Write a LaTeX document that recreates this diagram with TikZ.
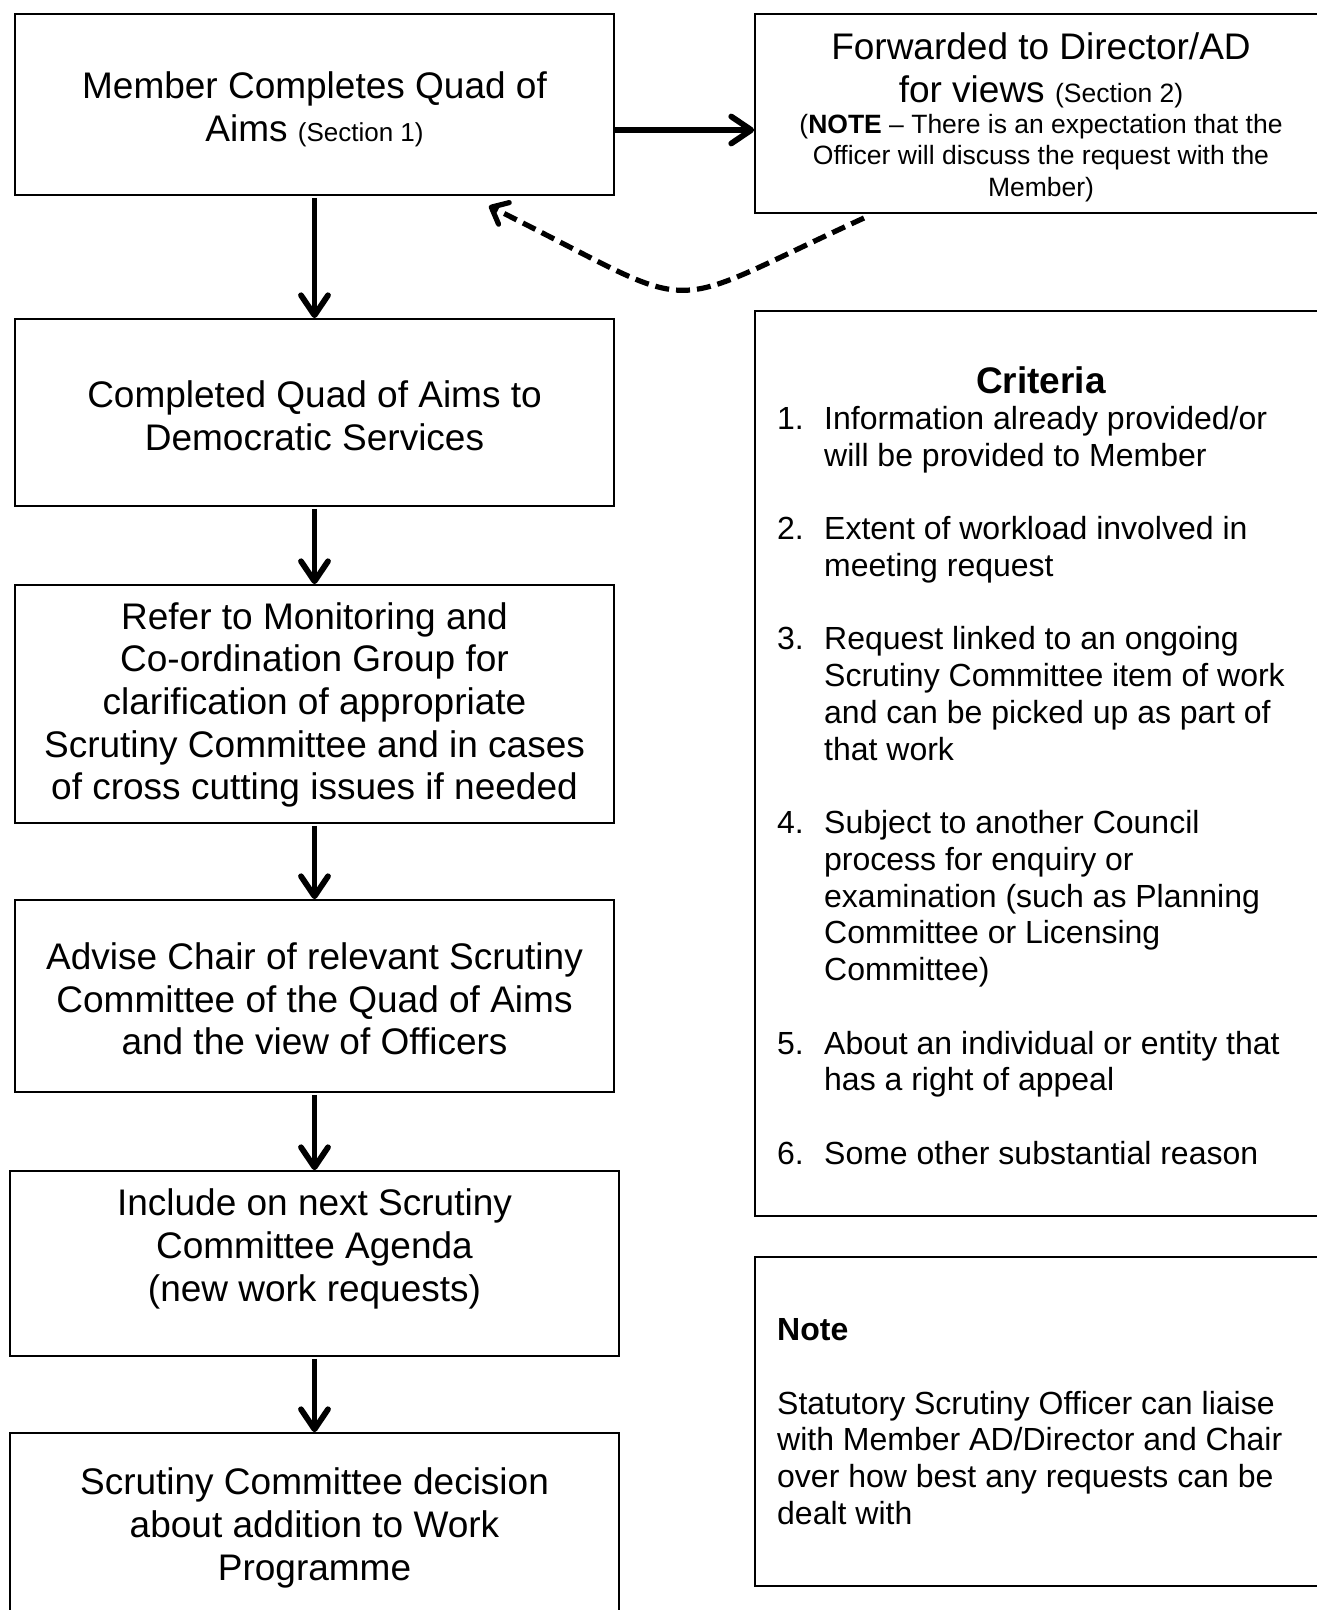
\documentclass[tikz,border=0pt]{standalone}
\usepackage{fontspec}
\setmainfont{Liberation Sans}
\usetikzlibrary{arrows.meta}
\newcommand{\critnum}[2]{\makebox[47pt][l]{#1}#2}
\newcommand{\critcont}[1]{\hspace*{47pt}#1}
\begin{document}
\begin{tikzpicture}[x=1pt,y=-1pt,
  box/.style={draw=black, line width=1.7pt, inner sep=0pt, rectangle},
  big/.style={font=\fontsize{37}{42.7}\selectfont, align=center, inner sep=0pt},
  small/.style={font=\fontsize{26.5}{31.3}\selectfont, align=center, inner sep=0pt},
  list/.style={font=\fontsize{32}{36.75}\selectfont, align=left, inner sep=0pt, anchor=north west},
  arr/.style={line width=5.8pt, -{Straight Barb[length=20pt,width=27pt,round]}},
  dasharr/.style={line width=5.2pt, dash pattern=on 14pt off 7pt, -{Straight Barb[length=14pt,width=24pt,round]}}
]
\path[use as bounding box] (0,0) rectangle (1317,1610);
\clip (0,0) rectangle (1317,1610);
\fill[white] (0,0) rectangle (1317,1610);

% boxes
\node[box, minimum width=599pt, minimum height=181pt] (b1) at (314.5,104.5) {};
\node[box, minimum width=572pt, minimum height=199pt] (fwd) at (1041,113.5) {};
\node[box, minimum width=599pt, minimum height=187pt] (b2) at (314.5,412.5) {};
\node[box, minimum width=599pt, minimum height=238pt] (b3) at (314.5,704) {};
\node[box, minimum width=599pt, minimum height=192pt] (b4) at (314.5,996) {};
\node[box, minimum width=609pt, minimum height=185pt] (b5) at (314.5,1263.5) {};
\node[box, minimum width=609pt, minimum height=192pt] (b6) at (314.5,1529) {};
\node[box, minimum width=572pt, minimum height=905pt] (crit) at (1041,763.5) {};
\node[box, minimum width=572pt, minimum height=329pt] (note) at (1041,1421.5) {};

% texts
\node[big] (t1) at (314.5,109) {Member Completes Quad of\\Aims {\fontsize{26}{30}\selectfont (Section 1)}};
\node[big] (fwdA) at (1041,70.5) {Forwarded to Director/AD\\for views {\fontsize{26.5}{30}\selectfont (Section 2)}};
\node[small] (fwdB) at (1041,158) {(\textbf{NOTE} – There is an expectation that the\\Officer will discuss the request with the\\Member)};
\node[big] (t2) at (314.5,416) {Completed Quad of Aims to\\Democratic Services};
\node[big] (t3) at (314.5,705) {Refer to Monitoring and\\Co-ordination Group for\\clarification of appropriate\\Scrutiny Committee and in cases\\of cross cutting issues if needed};
\node[big] (t4) at (314.5,999) {Advise Chair of relevant Scrutiny\\Committee of the Quad of Aims\\and the view of Officers};
\node[big] (t5) at (314.5,1249) {Include on next Scrutiny\\Committee Agenda\\(new work requests)};
\node[big] (t6) at (314.5,1528) {Scrutiny Committee decision\\about addition to Work\\Programme};

\node[big, font=\fontsize{37}{42.7}\selectfont\bfseries] (crithead) at (1041,380) {Criteria};
\node[list] (critlist) at (777,406) {%
\critnum{1.}{Information already provided/or}\\
\critcont{will be provided to Member}\\[36.75pt]
\critnum{2.}{Extent of workload involved in}\\
\critcont{meeting request}\\[36.75pt]
\critnum{3.}{Request linked to an ongoing}\\
\critcont{Scrutiny Committee item of work}\\
\critcont{and can be picked up as part of}\\
\critcont{that work}\\[36.75pt]
\critnum{4.}{Subject to another Council}\\
\critcont{process for enquiry or}\\
\critcont{examination (such as Planning}\\
\critcont{Committee or Licensing}\\
\critcont{Committee)}\\[36.75pt]
\critnum{5.}{About an individual or entity that}\\
\critcont{has a right of appeal}\\[36.75pt]
\critnum{6.}{Some other substantial reason}};

\node[list] (notetext) at (777,1318.5) {\textbf{Note}\\[36.75pt]
Statutory Scrutiny Officer can liaise\\
with Member AD/Director and Chair\\
over how best any requests can be\\
dealt with};

% connectors
\coordinate (hy) at (0,130);
\draw[arr] (b1.east |- hy) -- (fwd.west |- hy);
\draw[arr, shorten <=2pt] (b1.south) -- (b2.north);
\draw[arr, shorten <=2pt] (b2.south) -- (b3.north);
\draw[arr, shorten <=2pt] (b3.south) -- (b4.north);
\draw[arr, shorten <=2pt] (b4.south) -- (b5.north);
\draw[arr, shorten <=2pt] (b5.south) -- (b6.north);
\coordinate (ds) at (864,218);
\coordinate (de) at (489,206);
\draw[dasharr] (ds) .. controls (650,316) and (711,316) .. (de);
\end{tikzpicture}
\end{document}
